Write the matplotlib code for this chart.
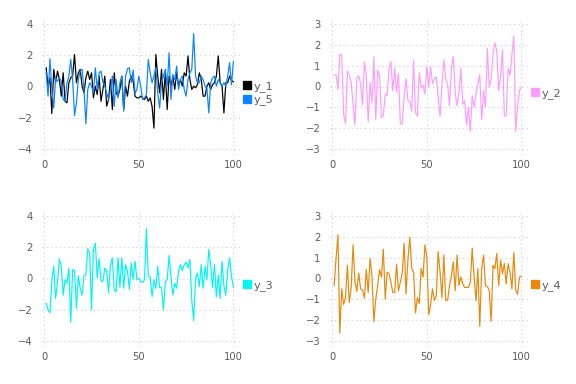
import matplotlib
matplotlib.use("Agg")
import matplotlib.pyplot as plt
from matplotlib.lines import Line2D
import numpy as np

y_1 = [1.2, 0.02, 0.56, -1.74, 1.1, 0.24, 0.99, 0.45, -0.62, 0.88, -0.95, -1.05, 0.24, 0.56, 0.67, 2.06, 0.24, 0.88, 1.1, 0.02,
       -0.41, 0.56, 0.99, 0.45, 0.88, -0.73, 0.02, -0.52, 0.67, -0.95, -0.19, 0.67, -1.27, -0.84, 0.45, -1.48, 0.88, -0.41, -0.62, -0.19,
       0.67, -1.48, 0.02, -0.62, 0.34, 0.67, 0.34, -0.62, -0.73, -0.73,
       -0.62, -0.73, -0.84, -0.62, -0.95, -0.73, -1.27, -2.67, 2.06, 0.67, -0.41, 1.1, -0.84, 0.88, -1.48, 0.67, 0.02, 0.67, -0.19, 0.88,
       0.02, 0.45, 0.02, 0.88, 0.67, 1.96, 0.45, -0.19, 0.02, -0.08, 0.13, 0.88, 0.45, -0.62, -0.62, 0.02, 0.24, -0.19, 0.13, 0.24,
       0.67, 1.96, 0.24, 0.02, -1.7, 0.24, 0.24, 0.67, 0.4, 0.3]
y_5 = [0.88, -0.62, 1.78, -0.19, -1.38, 0.56, 0.34, 0.56, 0.34, -0.84, -0.95, 0.24, 0.67, 1.74, 0.45, -1.87, -1.05, 0.45, 0.99, 1.1,
       -0.19, -2.39, -0.19, 0.24, 0.02, -0.41, 1.2, -0.19, 0.88, 0.99, 0.24, 0.02, -0.41, -0.84, -0.19, 0.67, -1.27, 0.45, -0.73, 0.24,
       0.67, -1.59, 0.67, 1.14, 1.2, 0.24, 1.05, -0.41, -0.19, 0.67,
       0.02, -0.84, -0.73, -0.52, 1.74, 0.88, 0.24, 0.67, 1.2, -0.41, -1.38, 0.24, 0.67, 1.1, 0.02, 2.17, -0.84, 0.77, 0.45, 1.31,
       -0.19, 0.45, 0.67, -0.19, -0.62, 0.45, 0.88, 1.1, 3.4, 0.67, 0.24, 0.24, 0.67, 0.45, 0.02, -0.08, -1.7, 0.24, 0.56, 0.67,
       0.02, 0.45, 0.24, 0.02, 0.24, 0.02, 0.67, 1.53, 0.1, 1.6]
y_2 = [0.54, 0.57, -0.15, 1.56, 1.5, -1.35, -1.8, 0.74, 0.57, 0.18, -0.85, -1.85, 0.41, 0.51, 0.13, -0.9, 1.2, 0.5, -1.7, 0.2,
       -0.77, 1.44, -1.6, 0.79, 0.54, -1.5, -1.43, -0.36, -0.44, 0.87, 1.2, -0.2, 0.87, -0.28, 0.62, -1.8, -1.8, -0.44, 0.38, -0.69,
       -0.69, -1.18, 1.28, -1.26, -1.43, 0.67, -0.03, 0.05, -0.36, 0.95,
       -0.03, 0.95, 0.13, 0.38, 0.46, -0.52, -1.43, 0.05, 1.28, 0.38, 0.13, -0.93, 0.87, 1.44, -0.28, -0.93, -0.28, 0.87, -0.85, -0.69,
       -1.84, -1.0, -2.16, -0.44, -1.0, -0.36, 0.13, 0.57, -1.6, -0.2, -1.0, 1.85, -0.03, 0.38, 1.52, 2.1, 1.69, -0.2, 0.5, 1.77,
       -1.43, -1.4, 0.87, 0.54, 1.52, 2.43, -2.16, -0.93, -0.2, -0.03]
y_3 = [-1.6, -2.0, -2.2, -0.1, 0.78, -1.28, -0.2, 1.26, 0.78, -1.07, -0.09, -0.3, 0.67, -2.8, 0.57, 0.52, -1.93, 0.17, -0.63, -1.07,
       0.17, 0.24, 1.91, 1.65, -2.0, 1.87, 2.26, 0.02, 1.26, -0.13, -0.2, 0.67, 0.52, -0.91, 0.89, 1.33, -0.74, -0.85, 1.33, -0.57,
       1.33, -0.63, 0.89, 0.46, -0.7, 1.0, -0.04, 1.1, -0.09,
       0.02, -0.2, -0.26, -0.09, 3.2, 0.13, 0.09, -1.17, -0.09, -0.63, 0.78, -0.57, -0.57, -2.0, -0.2, -0.09, 1.48, 0.13, -1.07, -0.3,
       -0.63, 0.46, 0.89, 0.5, 0.89, 1.04, 0.67, 1.22, -1.4, -2.7, 0.02, 0.35, -0.52, 0.89, -0.63, 0.78, -0.09, 1.87, 0.89, -0.57,
       0.89, -1.17, 0.2, -1.28, 1.1, -0.48, -1.07, 0.57, 1.33, 0.13, -0.57]
y_4 = [-0.34, 0.97, 2.11, -2.64, -0.5, -1.25, -0.92, 0.64, -1.16, -0.43, 1.62, -0.18, -0.62, 0.26, -0.5, -0.56, -0.95, 0.43, -0.67, 0.97,
       0.1, -2.07, -1.0, -0.34, 0.43, 0.07, 1.41, -1.0, 0.31, 0.23, -0.18, -0.67, -0.67, 0.69, -0.59, -0.18, 0.26, 1.7, -0.75, 0.89,
       2.0, 0.48, 0.31, -1.66, -0.92, -1.21, 0.48, 0.07, 1.62, 1.05, -1.74, -1.25,
       -0.5, -1.05, -0.84, 1.3, 0.31, -0.92, 1.13, -1.05, -1.05, -0.34, 0.15, 0.8, -0.59, 1.13, -0.34, 0.07, -0.26, -0.43,
       -0.43, -0.43, -0.18, 1.46, 0.1, -1.08, 0.48, -2.31, 0.48, 1.13, -0.34, -0.39, -0.56, -2.07, 0.64, 0.48, 1.21, -0.34, 0.89, 0.23,
       0.72, -0.26, 0.72, 0.31, -0.5, 1.25, -0.56, -0.75, 0.07, 0.1]

x_ticks = [0, 50, 100]

W, H = 576, 384
fig = plt.figure(figsize=(W / 96, H / 96), dpi=96)

text_color = "#5a5a5a"
grid_color = "#d8d8e4"

def add_axes(px_left, px_top, px_right, px_bottom):
    return fig.add_axes([px_left / W, 1 - px_bottom / H, (px_right - px_left) / W, (px_bottom - px_top) / H])

def style(ax, ylim, yticks):
    ax.set_xlim(-1.2, 103.5)
    ax.set_ylim(*ylim)
    ax.set_xticks(x_ticks)
    ax.set_yticks(yticks)
    for s in ax.spines.values():
        s.set_visible(False)
    ax.tick_params(axis="y", pad=7)
    ax.tick_params(axis="x", pad=4)
    ax.tick_params(length=0, labelsize=7.5, colors=text_color)
    ax.grid(True, color=grid_color, linestyle=(0, (1.5, 2.5)), linewidth=0.8)
    ax.set_axisbelow(True)

def legend(ax, entries):
    handles = [Line2D([], [], marker="s", linestyle="none", color=c, markersize=6.5) for c, _ in entries]
    labels = [l for _, l in entries]
    ax.legend(handles, labels, loc="center left", bbox_to_anchor=(0.985, 0.45), frameon=False,
              fontsize=8.5, labelcolor=text_color, handletextpad=0.1, borderaxespad=0.0,
              labelspacing=0.2, handlelength=1.0)

c1, c5, c2, c3, c4 = "#000000", "#0a84ff", "#ff9cff", "#00f5f5", "#e8890c"

ax1 = add_axes(42, 18, 240, 155)
x1 = np.arange(1, len(y_1) + 1)
x5 = np.arange(1, len(y_5) + 1)
ax1.plot(x1, y_1, color=c1, lw=0.9)
ax1.plot(x5, y_5, color=c5, lw=0.9)
style(ax1, (-4.4, 4.4), [-4, -2, 0, 2, 4])
legend(ax1, [(c1, "y_1"), (c5, "y_5")])

ax2 = add_axes(330, 18, 528, 155)
ax2.plot(np.arange(1, len(y_2) + 1), y_2, color=c2, lw=0.9)
style(ax2, (-3.3, 3.3), [-3, -2, -1, 0, 1, 2, 3])
legend(ax2, [(c2, "y_2")])

ax3 = add_axes(42, 210, 240, 347)
ax3.plot(np.arange(1, len(y_3) + 1), y_3, color=c3, lw=0.9)
style(ax3, (-4.4, 4.4), [-4, -2, 0, 2, 4])
legend(ax3, [(c3, "y_3")])

ax4 = add_axes(330, 210, 528, 347)
ax4.plot(np.arange(1, len(y_4) + 1), y_4, color=c4, lw=0.9)
style(ax4, (-3.3, 3.3), [-3, -2, -1, 0, 1, 2, 3])
legend(ax4, [(c4, "y_4")])

fig.savefig("out.png", dpi=96)
